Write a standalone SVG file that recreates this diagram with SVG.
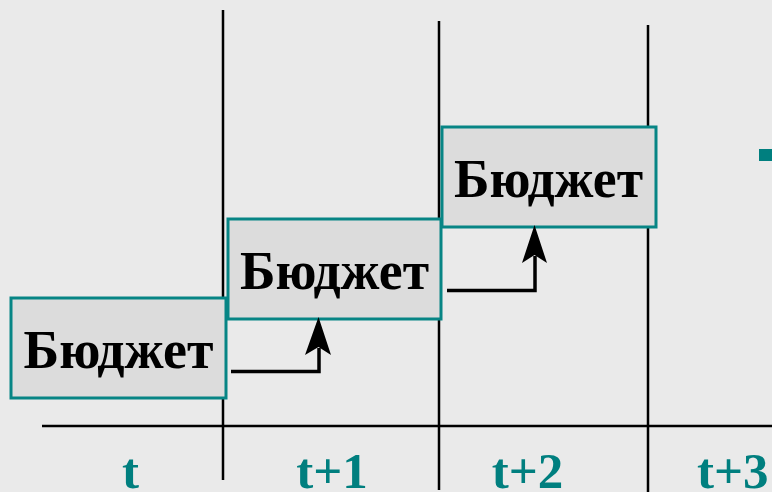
<svg xmlns="http://www.w3.org/2000/svg" width="772" height="492" viewBox="0 0 772 492">
<style>
.box{fill:#dcdcdc;stroke:#078585;stroke-width:3}
.lbl{font-family:"Liberation Serif","Times New Roman",serif;font-weight:bold;font-size:54px;fill:#000;text-anchor:middle}
.tl{font-family:"Liberation Serif","Times New Roman",serif;font-weight:bold;font-size:51px;fill:#007f7f;text-anchor:middle}
.grid{stroke:#000;stroke-width:2.5;fill:none}
.conn{stroke:#000;stroke-width:3.5;fill:none}
.head{fill:#000}
</style>
<rect width="772" height="492" fill="#eaeaea"/>
<g id="grid">
<line class="grid" x1="223" y1="10" x2="223" y2="480"/>
<line class="grid" x1="439" y1="21" x2="439" y2="490"/>
<line class="grid" x1="648" y1="25" x2="648" y2="492"/>
<line class="grid" x1="42" y1="426" x2="772" y2="426"/>
</g>
<g id="node1">
<rect class="box" x="11" y="298" width="215" height="100"/>
<text class="lbl" x="118.5" y="368" textLength="190" lengthAdjust="spacingAndGlyphs">Бюджет</text>
</g>
<g id="node2">
<rect class="box" x="228" y="219" width="213" height="100"/>
<text class="lbl" x="334.5" y="289" textLength="189" lengthAdjust="spacingAndGlyphs">Бюджет</text>
</g>
<g id="node3">
<rect class="box" x="442" y="127" width="214" height="100"/>
<text class="lbl" x="548.5" y="197" textLength="189" lengthAdjust="spacingAndGlyphs">Бюджет</text>
</g>
<g id="connectors">
<path class="conn" d="M231,371.5 H319 V348"/>
<polygon class="head" points="318.5,317 331,355 318.5,347 305,355"/>
<path class="conn" d="M447,290.5 H535 V256"/>
<polygon class="head" points="534.5,225 547,263 534.5,255 522,263"/>
</g>
<g id="axis-labels">
<text class="tl" x="130.5" y="488">t</text>
<text class="tl" x="332" y="488">t+1</text>
<text class="tl" x="527.5" y="488">t+2</text>
<text class="tl" x="697" y="488" style="text-anchor:start">t+3</text>
</g>
<rect x="759" y="149" width="13" height="12" fill="#007f7f"/>
</svg>
